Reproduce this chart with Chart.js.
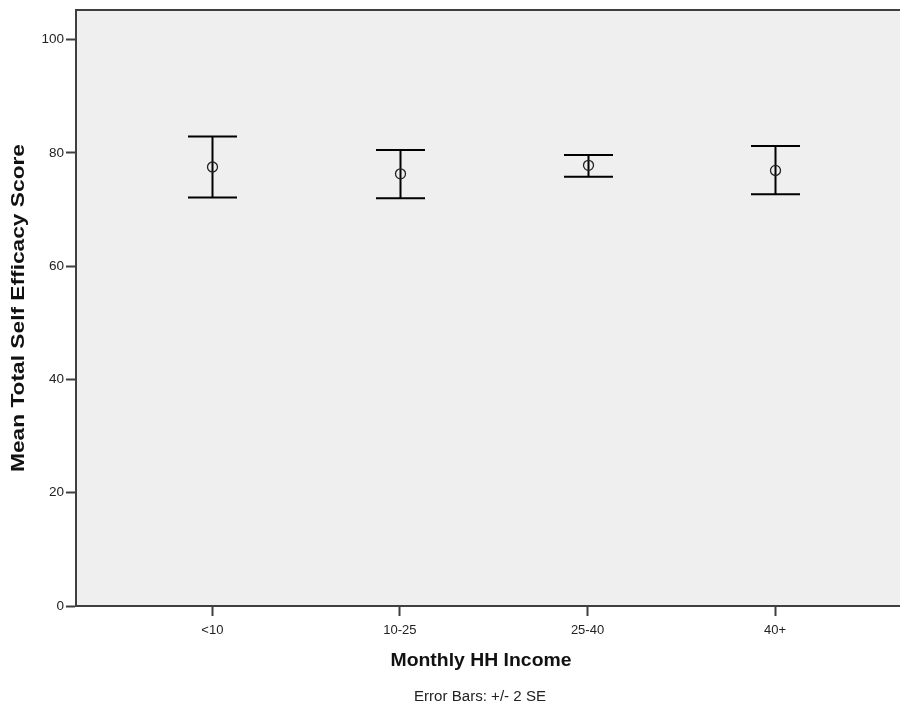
<!DOCTYPE html>
<html>
<head>
<meta charset="utf-8">
<script src="https://cdn.jsdelivr.net/npm/chart.js@4/dist/chart.umd.min.js"></script>
<style>
  html, body { margin: 0; padding: 0; background: #ffffff; }
  #wrap { width: 900px; height: 716px; position: relative; }
</style>
</head>
<body>
<div id="wrap"><canvas id="chart" width="900" height="716"></canvas></div>
<script>
// Income groups and the mean score with its +/- 2 SE interval
const categories = ['<10', '10-25', '25-40', '40+'];
const means = [77.5, 76.3, 77.8, 76.9];
const lowerBounds = [72.1, 72.0, 75.8, 72.7];
const upperBounds = [82.9, 80.5, 79.6, 81.2];
const yTicks = [0, 20, 40, 60, 80, 100];

const AXIS_COLOR = '#3f3f3f';
const FONT = 'Arial, "Liberation Sans", sans-serif';

const points = categories.map((c, i) => ({ x: i + 1, y: means[i] }));

// draw text stretched to a given width
function fillFitted(ctx, text, x, y, width) {
  const w = ctx.measureText(text).width;
  ctx.save();
  ctx.translate(x, y);
  ctx.scale(width / w, 1);
  ctx.fillText(text, 0, 0);
  ctx.restore();
}

// Plot background, top border, error bars, mean markers and the texts
const errorBarPlugin = {
  id: 'errorBars',
  beforeDraw(chart) {
    const { ctx, chartArea: a } = chart;
    ctx.save();
    ctx.fillStyle = '#efefef';
    ctx.fillRect(a.left, a.top, a.right - a.left, a.bottom - a.top);
    ctx.restore();
  },
  afterDatasetsDraw(chart) {
    const { ctx, chartArea: a, scales } = chart;
    const xs = scales.x, ys = scales.y;
    ctx.save();
    ctx.strokeStyle = '#000000';
    ctx.lineWidth = 2;
    const half = 24.5;
    categories.forEach((c, i) => {
      const px = Math.round(xs.getPixelForValue(i + 1)) + 0.5;
      const top = ys.getPixelForValue(upperBounds[i]);
      const bot = ys.getPixelForValue(lowerBounds[i]);
      ctx.beginPath();
      ctx.moveTo(px, top); ctx.lineTo(px, bot);
      ctx.moveTo(px - half, top); ctx.lineTo(px + half, top);
      ctx.moveTo(px - half, bot); ctx.lineTo(px + half, bot);
      ctx.stroke();
    });
    ctx.restore();
    const meta = chart.getDatasetMeta(0);
    ctx.save();
    ctx.strokeStyle = '#222222';
    ctx.lineWidth = 1.3;
    meta.data.forEach(pt => {
      ctx.beginPath();
      ctx.arc(Math.round(pt.x) + 0.5, pt.y, 5, 0, Math.PI * 2);
      ctx.stroke();
    });
    ctx.restore();
    ctx.save();
    ctx.strokeStyle = AXIS_COLOR;
    ctx.lineWidth = 2;
    ctx.beginPath();
    ctx.moveTo(a.left - 1, a.top);
    ctx.lineTo(a.right, a.top);
    ctx.stroke();
    ctx.restore();
  },
  afterDraw(chart) {
    const { ctx, chartArea: a } = chart;
    ctx.save();
    ctx.fillStyle = '#111111';
    ctx.textAlign = 'center';
    ctx.textBaseline = 'middle';
    ctx.font = 'bold 18px ' + FONT;
    fillFitted(ctx, 'Monthly HH Income', 481, 661, 181);
    ctx.save();
    ctx.translate(19, 308);
    ctx.rotate(-Math.PI / 2);
    fillFitted(ctx, 'Mean Total Self Efficacy Score', 0, 0, 328);
    ctx.restore();
    ctx.fillStyle = '#222222';
    ctx.font = '14px ' + FONT;
    fillFitted(ctx, 'Error Bars: +/- 2 SE', 480, 697, 132);
    ctx.restore();
  }
};

new Chart(document.getElementById('chart'), {
  type: 'scatter',
  data: {
    datasets: [{
      data: points,
      pointRadius: 0,
      pointHoverRadius: 0,
      showLine: false
    }]
  },
  options: {
    responsive: false,
    animation: false,
    events: [],
    layout: { padding: { top: 8, right: 0, left: 0, bottom: 0 } },
    plugins: { legend: { display: false }, tooltip: { enabled: false } },
    scales: {
      x: {
        type: 'linear',
        min: 0.273,
        max: 4.666,
        afterBuildTicks(scale) {
          scale.ticks = categories.map((c, i) => ({ value: i + 1 }));
        },
        afterFit(scale) { scale.height = 110; },
        ticks: {
          autoSkip: false,
          maxRotation: 0,
          padding: 7,
          color: '#222222',
          font: { family: FONT, size: 13 },
          callback: (v) => categories[Math.round(v) - 1] ?? ''
        },
        grid: { drawOnChartArea: false, drawTicks: true, tickLength: 10, tickWidth: 2, tickColor: AXIS_COLOR },
        border: { display: true, color: AXIS_COLOR, width: 2 },
        title: { display: false }
      },
      y: {
        type: 'linear',
        min: 0,
        max: 105.2,
        afterBuildTicks(scale) {
          scale.ticks = yTicks.map(v => ({ value: v }));
        },
        afterFit(scale) { scale.width = 76; },
        ticks: {
          padding: 2,
          color: '#222222',
          font: { family: FONT, size: 13.5 }
        },
        grid: { drawOnChartArea: false, drawTicks: true, tickLength: 10, tickWidth: 2, tickColor: AXIS_COLOR },
        border: { display: true, color: AXIS_COLOR, width: 2 },
        title: { display: false }
      }
    }
  },
  plugins: [errorBarPlugin]
});
</script>
</body>
</html>
